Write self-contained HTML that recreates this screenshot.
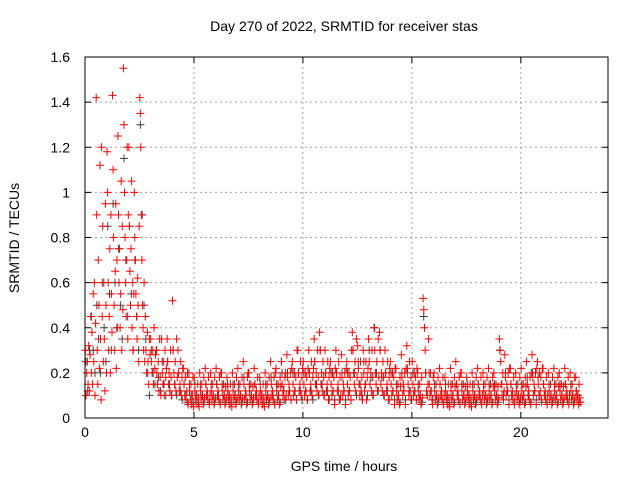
<!DOCTYPE html>
<html><head><meta charset="utf-8"><style>
body{margin:0;background:#fff}
svg{display:block;font-family:"Liberation Sans",sans-serif}
</style></head><body>
<svg id="chart" width="640" height="480" viewBox="0 0 640 480" xmlns="http://www.w3.org/2000/svg">
<rect width="640" height="480" fill="#fff"/>
<text x="344" y="31" font-size="14" text-anchor="middle">Day 270 of 2022, SRMTID for receiver stas</text>
<text x="344" y="471" font-size="14" text-anchor="middle">GPS time / hours</text>
<text transform="translate(19,238) rotate(-90)" font-size="14" text-anchor="middle">SRMTID / TECUs</text>
<g id="grid"></g>
<g id="ticks"></g>
<g id="black"></g>
<g id="red"></g>
<rect x="85" y="57" width="523" height="361" fill="none" stroke="#000" stroke-width="1"/>
</svg>
<script>
const xTicks=[0,5,10,15,20];
const yTicks=[0,0.2,0.4,0.6,0.8,1,1.2,1.4,1.6];
const yTickLabels=["0","0.2","0.4","0.6","0.8","1","1.2","1.4","1.6"];
const stepHours=0.25;
const redValues=[
[0.3,0.1,0.2,0.25,0.15,0.32,0.12,0.28],
[0.45,0.2,0.38,0.15,0.55,0.25,0.6,0.1,0.42],
[1.42,0.9,0.3,0.15,0.7,0.5,0.22,1.12,0.35,0.08],
[1.2,0.45,0.85,0.25,0.6,0.35,0.12,0.95,0.5,0.2],
[1.18,1.0,0.6,0.3,0.45,0.75,0.2,0.9,0.55,0.38],
[1.43,1.1,0.8,0.5,0.3,0.65,0.95,0.22,0.7,0.4],
[1.25,0.9,0.6,0.75,0.4,0.55,1.05,0.3,0.85,0.48],
[1.55,1.3,1.0,0.8,0.6,0.45,0.7,1.2,0.35,0.9],
[1.2,0.85,0.65,0.5,0.75,1.05,0.4,0.6,0.3,0.55],
[1.0,0.8,0.7,0.55,0.45,0.35,0.62,0.5,0.25,0.85],
[1.42,1.35,1.2,0.9,0.7,0.5,0.4,0.3,0.6,0.25],
[0.45,0.3,0.2,0.38,0.25,0.15,0.35,0.28],
[0.35,0.25,0.2,0.3,0.15,0.4,0.22,0.28],
[0.3,0.2,0.15,0.25,0.12,0.35,0.18,0.1],
[0.35,0.2,0.15,0.25,0.1,0.3,0.18,0.22],
[0.35,0.25,0.15,0.2,0.12,0.3,0.18,0.1],
[0.52,0.3,0.2,0.15,0.25,0.12,0.35,0.18],
[0.3,0.2,0.12,0.15,0.25,0.1,0.18,0.22],
[0.22,0.15,0.1,0.18,0.08,0.12,0.2,0.06],
[0.2,0.12,0.08,0.15,0.06,0.1,0.18,0.05],
[0.18,0.12,0.08,0.1,0.06,0.15,0.09,0.05],
[0.2,0.12,0.08,0.15,0.1,0.06,0.18,0.09],
[0.22,0.15,0.1,0.12,0.08,0.18,0.06,0.1],
[0.2,0.12,0.08,0.15,0.1,0.06,0.18,0.09],
[0.22,0.15,0.1,0.12,0.08,0.18,0.06,0.2],
[0.2,0.12,0.08,0.15,0.1,0.06,0.14,0.09],
[0.18,0.12,0.08,0.1,0.06,0.15,0.09,0.05],
[0.2,0.12,0.08,0.15,0.1,0.06,0.18,0.09],
[0.22,0.12,0.08,0.15,0.1,0.06,0.18,0.09],
[0.25,0.15,0.08,0.12,0.1,0.06,0.18,0.2],
[0.2,0.12,0.08,0.15,0.1,0.06,0.14,0.09],
[0.22,0.15,0.1,0.12,0.08,0.18,0.06,0.1],
[0.18,0.12,0.08,0.1,0.06,0.15,0.09,0.05],
[0.2,0.12,0.08,0.15,0.1,0.06,0.18,0.09],
[0.25,0.15,0.1,0.12,0.08,0.18,0.06,0.2],
[0.22,0.12,0.08,0.15,0.1,0.06,0.18,0.14],
[0.25,0.15,0.1,0.12,0.08,0.18,0.2,0.1],
[0.28,0.18,0.1,0.15,0.12,0.2,0.08,0.22],
[0.25,0.15,0.1,0.2,0.12,0.18,0.08,0.3],
[0.3,0.2,0.12,0.15,0.25,0.1,0.18,0.22],
[0.25,0.15,0.1,0.2,0.12,0.18,0.08,0.22],
[0.3,0.2,0.12,0.15,0.25,0.1,0.18,0.22],
[0.35,0.25,0.15,0.2,0.12,0.3,0.18,0.1],
[0.38,0.3,0.15,0.2,0.12,0.25,0.18,0.1],
[0.3,0.2,0.12,0.15,0.25,0.08,0.18,0.22],
[0.25,0.15,0.1,0.2,0.12,0.18,0.06,0.22],
[0.3,0.2,0.12,0.15,0.25,0.08,0.18,0.1],
[0.28,0.18,0.1,0.15,0.12,0.2,0.06,0.22],
[0.25,0.15,0.1,0.2,0.12,0.18,0.08,0.3],
[0.38,0.3,0.2,0.15,0.25,0.12,0.35,0.18],
[0.32,0.22,0.15,0.1,0.25,0.12,0.18,0.08],
[0.3,0.2,0.12,0.15,0.25,0.08,0.18,0.22],
[0.35,0.25,0.15,0.2,0.12,0.3,0.18,0.1],
[0.4,0.3,0.2,0.15,0.25,0.12,0.35,0.18],
[0.38,0.3,0.15,0.2,0.12,0.25,0.18,0.1],
[0.3,0.2,0.12,0.15,0.25,0.08,0.18,0.22],
[0.25,0.15,0.1,0.2,0.12,0.18,0.06,0.22],
[0.22,0.12,0.08,0.15,0.1,0.06,0.18,0.14],
[0.28,0.18,0.1,0.15,0.12,0.2,0.06,0.22],
[0.32,0.22,0.15,0.1,0.25,0.12,0.18,0.08],
[0.25,0.15,0.1,0.2,0.12,0.18,0.08,0.22],
[0.2,0.12,0.08,0.15,0.1,0.06,0.18,0.09],
[0.53,0.48,0.4,0.3,0.2,0.12,0.1,0.15],
[0.35,0.15,0.1,0.2,0.12,0.08,0.06,0.18],
[0.2,0.12,0.08,0.15,0.1,0.06,0.18,0.09],
[0.22,0.15,0.1,0.12,0.08,0.18,0.06,0.1],
[0.18,0.12,0.08,0.1,0.06,0.15,0.09,0.05],
[0.22,0.12,0.08,0.15,0.1,0.06,0.18,0.14],
[0.25,0.15,0.1,0.12,0.08,0.18,0.06,0.2],
[0.2,0.12,0.08,0.15,0.1,0.06,0.14,0.09],
[0.18,0.12,0.08,0.1,0.06,0.15,0.09,0.05],
[0.2,0.12,0.08,0.15,0.1,0.06,0.18,0.09],
[0.22,0.15,0.1,0.12,0.08,0.18,0.06,0.1],
[0.2,0.12,0.08,0.15,0.1,0.06,0.18,0.09],
[0.22,0.12,0.08,0.15,0.1,0.06,0.18,0.14],
[0.2,0.12,0.08,0.15,0.1,0.06,0.14,0.09],
[0.35,0.3,0.25,0.15,0.1,0.2,0.08,0.12],
[0.28,0.18,0.1,0.15,0.12,0.2,0.06,0.22],
[0.22,0.15,0.1,0.12,0.08,0.18,0.06,0.1],
[0.2,0.12,0.08,0.15,0.1,0.06,0.18,0.09],
[0.22,0.12,0.08,0.15,0.1,0.06,0.18,0.14],
[0.25,0.15,0.1,0.12,0.08,0.18,0.06,0.2],
[0.28,0.18,0.1,0.15,0.12,0.2,0.06,0.22],
[0.25,0.15,0.1,0.2,0.12,0.18,0.08,0.22],
[0.22,0.15,0.1,0.12,0.08,0.18,0.06,0.1],
[0.2,0.12,0.08,0.15,0.1,0.06,0.18,0.09],
[0.22,0.12,0.08,0.15,0.1,0.06,0.18,0.14],
[0.2,0.12,0.08,0.15,0.1,0.06,0.14,0.09],
[0.22,0.15,0.1,0.12,0.08,0.18,0.06,0.1],
[0.2,0.12,0.08,0.15,0.1,0.06,0.18,0.09],
[0.18,0.12,0.08,0.1,0.06,0.15,0.09,0.07]
];
const blackValues=[
[0.25,0.12,0.3],[0.45,0.3,0.2],[0.5,0.35,0.2],[0.6,0.4,0.25],[0.85,0.55,0.3],
[0.95,0.6,0.4],[0.75,0.5,0.35],[1.15,0.7,0.45],[0.85,0.55,0.3],[0.7,0.45,0.3],
[1.3,0.9,0.5],[0.35,0.2,0.1],[0.3,0.2,0.15],[0.3,0.18,0.12],[0.25,0.15,0.1],
[0.25,0.15,0.1],[0.3,0.15,0.1],[0.2,0.12,0.08],[0.15,0.1,0.07],[0.15,0.1,0.07],
[0.15,0.1,0.07],[0.15,0.1,0.07],[0.15,0.1,0.07],[0.15,0.1,0.07],[0.15,0.1,0.07],
[0.15,0.1,0.07],[0.15,0.1,0.07],[0.15,0.1,0.07],[0.15,0.1,0.07],[0.18,0.1,0.07],
[0.15,0.1,0.07],[0.15,0.1,0.07],[0.15,0.1,0.07],[0.15,0.1,0.07],[0.18,0.1,0.07],
[0.15,0.1,0.07],[0.2,0.12,0.08],[0.2,0.12,0.08],[0.2,0.12,0.08],[0.2,0.12,0.08],
[0.2,0.12,0.08],[0.2,0.12,0.08],[0.25,0.15,0.1],[0.3,0.15,0.1],[0.2,0.12,0.08],
[0.2,0.12,0.08],[0.2,0.12,0.08],[0.2,0.12,0.08],[0.2,0.12,0.08],[0.3,0.2,0.1],
[0.25,0.15,0.1],[0.25,0.15,0.1],[0.3,0.18,0.1],[0.4,0.2,0.12],[0.3,0.18,0.1],
[0.2,0.12,0.08],[0.2,0.12,0.08],[0.15,0.1,0.07],[0.2,0.12,0.08],[0.2,0.12,0.08],
[0.2,0.12,0.08],[0.15,0.1,0.07],[0.45,0.2,0.1],[0.2,0.12,0.08],[0.15,0.1,0.07],
[0.15,0.1,0.07],[0.15,0.1,0.07],[0.15,0.1,0.07],[0.15,0.1,0.07],[0.15,0.1,0.07],
[0.15,0.1,0.07],[0.15,0.1,0.07],[0.15,0.1,0.07],[0.15,0.1,0.07],[0.15,0.1,0.07],
[0.15,0.1,0.07],[0.3,0.15,0.1],[0.2,0.12,0.08],[0.15,0.1,0.07],[0.15,0.1,0.07],
[0.15,0.1,0.07],[0.18,0.1,0.07],[0.2,0.12,0.08],[0.18,0.1,0.07],[0.15,0.1,0.07],
[0.15,0.1,0.07],[0.15,0.1,0.07],[0.15,0.1,0.07],[0.15,0.1,0.07],[0.15,0.1,0.07],[0.12,0.1,0.07]
];
const NS="http://www.w3.org/2000/svg";
const X0=85,X1=608,Y0=418,Y1=57,XMAX=24,YMAX=1.6;
function xs(v){return X0+v/XMAX*(X1-X0);}
function ys(v){return Y0-v/YMAX*(Y0-Y1);}
function mk(tag,attrs,parent){const e=document.createElementNS(NS,tag);for(const k in attrs)e.setAttribute(k,attrs[k]);parent.appendChild(e);return e;}
const grid=document.getElementById('grid'),ticks=document.getElementById('ticks');
xTicks.forEach(t=>{
  const x=xs(t);
  if(t>0){
    const g=mk('line',{x1:x,x2:x,y1:Y1,y2:Y0,stroke:'#a0a0a0','stroke-dasharray':'2,3'},grid);
    
    
  }
  mk('line',{x1:x,x2:x,y1:Y0,y2:Y0-6,stroke:'#000'},ticks);
  mk('line',{x1:x,x2:x,y1:Y1,y2:Y1+6,stroke:'#000'},ticks);
  const l=mk('text',{x:x,y:Y0+19,'font-size':14,'text-anchor':'middle'},ticks);
  l.textContent=String(t);
  
  
});
yTicks.forEach((t,i)=>{
  const y=ys(t);
  if(t>0&&t<YMAX){
    const g=mk('line',{x1:X0,x2:X1,y1:y,y2:y,stroke:'#a0a0a0','stroke-dasharray':'2,3'},grid);
    
    
  }
  mk('line',{x1:X0,x2:X0+6,y1:y,y2:y,stroke:'#000'},ticks);
  mk('line',{x1:X1,x2:X1-6,y1:y,y2:y,stroke:'#000'},ticks);
  const l=mk('text',{x:X0-15,y:y+5,'font-size':14,'text-anchor':'end'},ticks);
  l.textContent=yTickLabels[i];
  
  
});
function plot(vals,g,color,name){
  let d='';
  vals.forEach((arr,i)=>{
    arr.forEach((v,j)=>{
      const t=i*stepHours+(j+0.5)*stepHours/arr.length;
      const x=xs(t),y=ys(v);
      d+='M'+(x-4).toFixed(1)+' '+y.toFixed(1)+'h8M'+x.toFixed(1)+' '+(y-4).toFixed(1)+'v8';
    });
  });
  const p=mk('path',{d:d,stroke:color,'stroke-width':1,fill:'none'},g);
  
  
}
plot(blackValues,document.getElementById('black'),'#404040','black-points');
plot(redValues,document.getElementById('red'),'#ff0000','red-points');
</script>
</body></html>
